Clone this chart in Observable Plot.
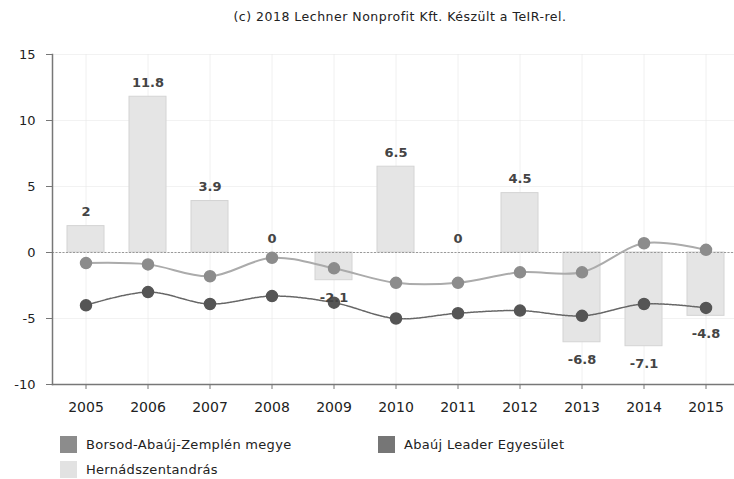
<!DOCTYPE html>
<html>
<head>
<meta charset="utf-8">
<script src="https://cdn.jsdelivr.net/npm/d3@7"></script>
<script src="https://cdn.jsdelivr.net/npm/@observablehq/plot@0.6"></script>
<style>
  html, body { margin: 0; padding: 0; background: #fff; }
  body { width: 734px; height: 479px; overflow: hidden; font-family: "DejaVu Sans", Verdana, sans-serif; position: relative; }
  #title { height: 34px; line-height: 34px; text-align: center; font-size: 12.5px; letter-spacing: 0.5px; color: #222; padding-left: 66px; }
  #legend { position: relative; height: 55px; font-size: 13px; letter-spacing: 0.3px; color: #222; }
  .item { position: absolute; display: flex; align-items: center; }
  .sw { width: 17px; height: 17px; margin-right: 9px; }
</style>
</head>
<body>
<div id="title">(c) 2018 Lechner Nonprofit Kft. Készült a TeIR-rel.</div>
<div id="chart"></div>
<div id="legend"></div>
<script>
const years = ["2005","2006","2007","2008","2009","2010","2011","2012","2013","2014","2015"];
const hernadszentandras = [2, 11.8, 3.9, 0, -2.1, 6.5, 0, 4.5, -6.8, -7.1, -4.8];
const borsod = [-0.8, -0.9, -1.8, -0.4, -1.2, -2.3, -2.3, -1.5, -1.5, 0.7, 0.2];
const abaujLeader = [-4.0, -3.0, -3.9, -3.3, -3.8, -5.0, -4.6, -4.4, -4.8, -3.9, -4.2];
const yTicks = [15, 10, 5, 0, -5, -10];
const seriesNames = ["Borsod-Abaúj-Zemplén megye", "Abaúj Leader Egyesület", "Hernádszentandrás"];
const seriesColors = ["#8c8c8c", "#767676", "#e2e2e2"];

const bars = years.map((y, i) => ({year: y, value: hernadszentandras[i]}));
const lineB = years.map((y, i) => ({year: y, value: borsod[i]}));
const lineA = years.map((y, i) => ({year: y, value: abaujLeader[i]}));

const chart = Plot.plot({
  width: 734,
  height: 390,
  marginTop: 20,
  marginBottom: 40,
  marginLeft: 52,
  marginRight: 0,
  style: {fontFamily: "DejaVu Sans, Verdana, sans-serif", fontSize: "13px", color: "#222", background: "#fff"},
  x: {type: "band", domain: years, range: [52, 740], paddingInner: 0.4, paddingOuter: 0.2, label: null},
  y: {domain: [-10, 15], label: null},
  marks: [
    Plot.gridX(years, {stroke: "#e6e6e6", strokeOpacity: 0.6}),
    Plot.gridY(yTicks, {stroke: "#e6e6e6", strokeOpacity: 0.5}),
    Plot.barY(bars, {x: "year", y: "value", fill: "#e5e5e5", stroke: "#d4d4d4", strokeWidth: 1}),
    Plot.ruleY([0], {stroke: "#999", strokeDasharray: "2,1.5", strokeWidth: 1}),
    Plot.line(lineB, {x: "year", y: "value", stroke: "#ababab", strokeWidth: 2, curve: "catmull-rom"}),
    Plot.dot(lineB, {x: "year", y: "value", r: 5.5, fill: "#8c8c8c", stroke: "#8c8c8c"}),
    Plot.line(lineA, {x: "year", y: "value", stroke: "#666", strokeWidth: 1.5, strokeDasharray: "2,1", curve: "catmull-rom"}),
    Plot.dot(lineA, {x: "year", y: "value", r: 5.5, fill: "#555", stroke: "#555"}),
    Plot.text(bars.filter(d => d.value >= 0), {x: "year", y: "value", text: d => String(d.value), dy: -14, fontSize: 13, fontWeight: "bold", fill: "#444"}),
    Plot.text(bars.filter(d => d.value < 0), {x: "year", y: "value", text: d => String(d.value), dy: 18, fontSize: 13, fontWeight: "bold", fill: "#444"}),
    Plot.axisY({ticks: yTicks, tickSize: 6, tickPadding: 11, tickFormat: d => String(d), fontSize: 13, stroke: "#777", fill: "#222"}),
    Plot.axisX({tickSize: 5, tickPadding: 13, fontSize: 14, stroke: "#777", fill: "#222"}),
    Plot.frame({anchor: "left", stroke: "#777", strokeWidth: 1.5}),
    Plot.frame({anchor: "bottom", stroke: "#777", strokeWidth: 1.5})
  ]
});
document.getElementById("chart").appendChild(chart);

const legend = document.getElementById("legend");
const pos = [{left: 60, top: 12}, {left: 378, top: 12}, {left: 60, top: 37}];
seriesNames.forEach((name, i) => {
  const it = document.createElement("div");
  it.className = "item";
  it.style.left = pos[i].left + "px";
  it.style.top = pos[i].top + "px";
  const sw = document.createElement("div");
  sw.className = "sw";
  sw.style.background = seriesColors[i];
  const lab = document.createElement("span");
  lab.textContent = name;
  it.appendChild(sw);
  it.appendChild(lab);
  legend.appendChild(it);
});
</script>
</body>
</html>
